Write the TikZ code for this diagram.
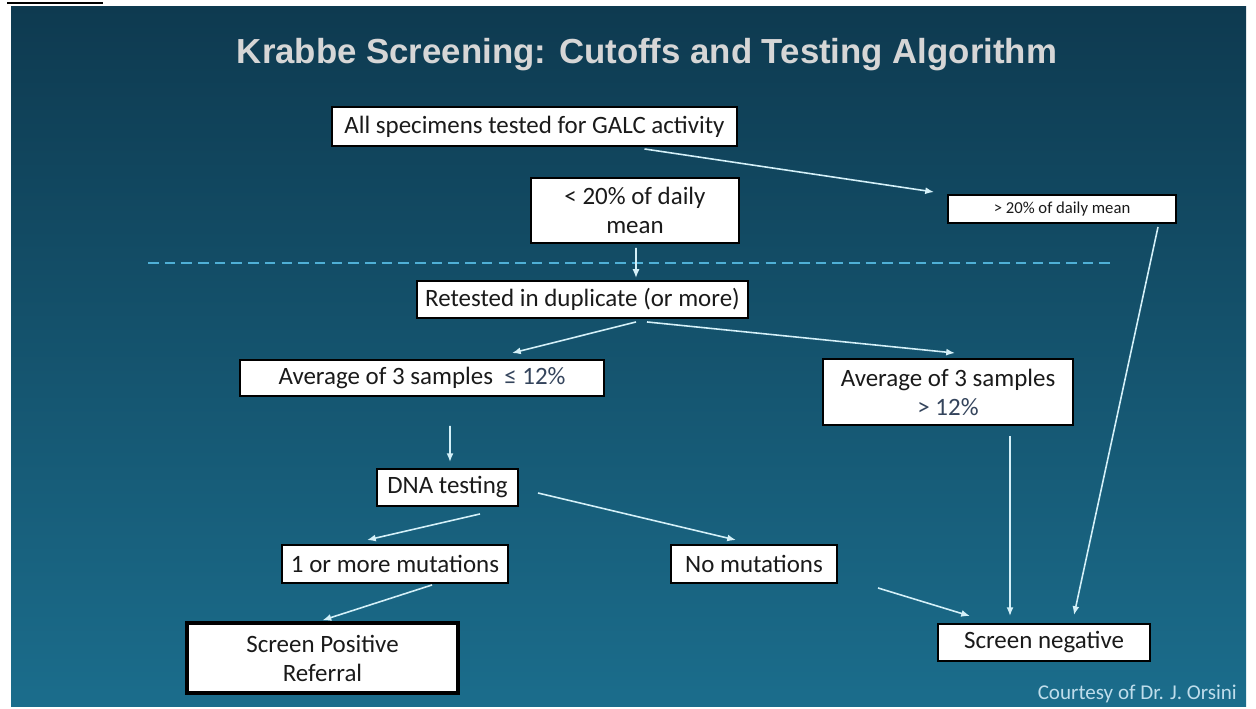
\documentclass[tikz,border=0pt]{standalone}
\usepackage{fontspec}
\setmainfont{Carlito}
\newfontfamily\titlefont{Liberation Sans}
\usetikzlibrary{calc,arrows.meta,positioning}
\definecolor{kb-bgtop}{HTML}{0E3A50}
\definecolor{kb-bgbot}{HTML}{1B6D8C}
\definecolor{kb-title}{HTML}{D6D6D6}
\definecolor{kb-arrow}{HTML}{D4F0F8}
\definecolor{kb-dash}{HTML}{4FB0D6}
\definecolor{kb-text}{HTML}{1A1A1A}
\definecolor{kb-pct}{HTML}{34445C}
\definecolor{kb-note}{HTML}{BFDDEB}

\begin{document}
\begin{tikzpicture}[x=0.02cm, y=-0.02cm, >={Latex[length=5pt,width=4pt]},
    box/.style={draw=black, fill=white, line width=1.1pt, inner sep=0pt, text=kb-text,
        font=\fontsize{14.2}{16.5}\selectfont, align=center},
    size/.style 2 args={minimum width=#1*0.02cm, minimum height=#2*0.02cm},
    flow/.style={->, kb-arrow, line width=0.9pt}]
    \useasboundingbox (0,0) rectangle (1256,709);
    \shade[top color=kb-bgtop, bottom color=kb-bgbot] (11,7) rectangle (1246,706);
    \draw[black, line width=1.3pt] (7,3) -- (103,3);
    \draw[kb-dash, line width=1.2pt, dash pattern=on 6pt off 3.5pt] (148,263) -- (1115,263);

    \node[kb-title, font=\titlefont\bfseries\fontsize{19.8}{23}\selectfont, anchor=base] (title) at (647,64) {Krabbe Screening: Cutoffs and Testing Algorithm};
    \node[box, size={405}{39}] (all) at (534.5,126.5) {All specimens tested for GALC activity};
    \node[box, size={208}{65}] (low) at (635,210.5) {< 20\% of daily\\mean};
    \node[box, size={228}{28}, font=\fontsize{9.5}{11}\selectfont] (high) at (1062,209) {> 20\% of daily mean};
    \node[box, size={331}{37}] (retest) at (582.5,299.5) {Retested in duplicate (or more)};
    \node[box, size={364}{36}] (avglow) at (422,378) {Average of 3 samples \ {\color{kb-pct}≤ 12\%}};
    \node[box, size={250}{66}] (avghigh) at (948,392) {Average of 3 samples\\{\color{kb-pct}> 12\%}};
    \node[box, size={141}{37}] (dna) at (447.5,487.5) {DNA testing};
    \node[box, size={226}{38}] (mut) at (395,564) {1 or more mutations};
    \node[box, size={166}{38}] (nomut) at (754,564) {No mutations};
    \node[box, line width=2pt, size={271}{70}] (pos) at (322.5,658) {Screen Positive\\Referral};
    \node[box, size={212}{37}] (neg) at (1044,642.5) {Screen negative};
    \node[kb-note, font=\fontsize{12}{14}\selectfont, anchor=base east] (credit) at (1243,699) {Courtesy of Dr. J. Orsini};

    \draw[flow] ($(all.south)+(110,2)$) -- ($(high.north west)+(-13,-2)$);
    \draw[flow] ($(low.south)+(1,4)$) -- ($(retest.north)+(53.5,-2)$);
    \draw[flow] ($(retest.south)+(53.5,3)$) -- ($(avglow.north)+(90,-6)$);
    \draw[flow] ($(retest.south)+(64.5,3)$) -- ($(avghigh.north)+(7,-5)$);
    \draw[flow] ($(avglow.south)+(28,29)$) -- ($(dna.north)+(2.5,-6)$);
    \draw[flow] ($(dna.south)+(32.5,7)$) -- ($(mut.north)+(-28,-4)$);
    \draw[flow] ($(dna.east)+(19,5.5)$) -- ($(nomut.north)+(-18,-4)$);
    \draw[flow] ($(mut.south)+(37,1)$) -- ($(pos.north)+(0,-1)$);
    \draw[flow] ($(nomut.south east)+(40,4)$) -- ($(neg.north)+(-74,-7)$);
    \draw[flow] ($(avghigh.south)+(62,10)$) -- ($(neg.north)+(-34,-7)$);
    \draw[flow] ($(high.south)+(96,3)$) -- ($(neg.north)+(30,-8)$);
\end{tikzpicture}
\end{document}
